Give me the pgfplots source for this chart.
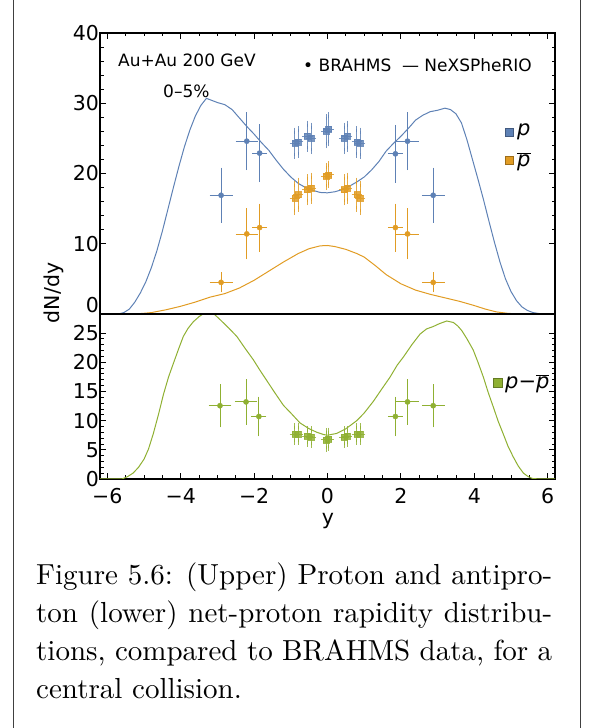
\documentclass[border=0pt]{standalone}
\usepackage{pgfplots}
\pgfplotsset{compat=1.18}
\usepackage{fontspec}
\newfontfamily\lsans{DejaVu Sans}
\newfontfamily\capfont[Extension=.otf]{lmroman10-regular}
\definecolor{cb}{RGB}{94,129,181}
\definecolor{co}{RGB}{225,156,36}
\definecolor{cg}{RGB}{143,176,50}
\pgfplotsset{
  mystyle/.style={scale only axis, width=455pt, xmin=-6.2, xmax=6.2,
    tick align=inside, major tick length=6pt, minor tick length=3.5pt,
    every tick/.style={black, line width=0.8pt},
    axis line style={black, line width=1.2pt},
    xtick={-6,-4,...,6}, minor x tick num=3,
    ticklabel style={font=\lsans\fontsize{20.5}{20.5}\selectfont},
    yticklabel style={xshift=2.5pt},
    yticklabel pos=left},
  errc/.style={only marks, mark=*, mark size=2.6pt,
    error bars/x dir=both, error bars/x explicit,
    error bars/y dir=both, error bars/y explicit,
    error bars/error bar style={line width=0.8pt},
    error bars/error mark options={line width=0.8pt, mark size=3pt}},
  errs/.style={only marks, mark=square*, mark size=3pt, opacity=0.85,
    error bars/x dir=both, error bars/x explicit,
    error bars/y dir=both, error bars/y explicit,
    error bars/error bar style={line width=0.8pt},
    error bars/error mark options={line width=0.8pt, mark size=3pt}},
}
\begin{document}
\begin{tikzpicture}[x=1pt,y=1pt]
\useasboundingbox (0,0) rectangle (592,728);
\draw[black!75, line width=1pt] (13,0) -- (13,728);
\draw[black!75, line width=1pt] (580,0) -- (580,728);
% upper panel
\begin{axis}[mystyle, at={(100pt,414pt)}, anchor=south west, height=281pt,
  ymin=0, ymax=40, ytick={10,20,30,40}, yticklabels={10,20,30,40},
  minor y tick num=4, xticklabels={}, xtick pos=upper,
  extra y ticks={0}, extra y tick labels={0},
  extra y tick style={yticklabel style={yshift=9pt}}]
\addplot[cb, line width=1pt] coordinates {(-6.2,0) (-5.7,0) (-5.55,0.2) (-5.4,0.7) (-5.25,1.7) (-5.1,3.0) (-4.95,4.6) (-4.8,6.6) (-4.65,9.0) (-4.5,11.8) (-4.35,14.9) (-4.2,18.0) (-4.05,21.0) (-3.9,23.8) (-3.75,26.2) (-3.6,28.2) (-3.45,29.7) (-3.3,30.7) (-3.15,30.4) (-3.0,30.1) (-2.8,29.8) (-2.6,29.1) (-2.4,27.9) (-2.2,26.7) (-2.0,25.6) (-1.8,24.4) (-1.6,23.3) (-1.4,21.9) (-1.2,20.6) (-1.0,19.5) (-0.8,18.6) (-0.6,18.0) (-0.4,17.6) (-0.2,17.3) (0,17.25) (0.2,17.4) (0.4,17.7) (0.6,18.2) (0.8,18.8) (1.0,19.5) (1.2,20.5) (1.4,21.7) (1.6,23.2) (1.8,24.3) (2.0,25.3) (2.2,26.4) (2.4,27.6) (2.6,28.3) (2.8,28.8) (3.0,29.0) (3.2,29.3) (3.35,29.1) (3.5,28.5) (3.65,27.2) (3.8,24.8) (3.95,22.0) (4.1,19.2) (4.25,16.3) (4.4,13.2) (4.55,10.2) (4.7,7.4) (4.85,5.0) (5.0,3.2) (5.15,1.9) (5.3,1.0) (5.45,0.5) (5.6,0.2) (5.8,0.03) (6.2,0)};
\addplot[co, line width=1pt] coordinates {(-6.2,0) (-5.3,0) (-5.0,0.1) (-4.8,0.2) (-4.4,0.6) (-4.0,1.1) (-3.6,1.7) (-3.2,2.4) (-2.8,2.9) (-2.4,3.7) (-2.0,4.8) (-1.6,6.1) (-1.2,7.4) (-0.8,8.6) (-0.5,9.3) (-0.2,9.7) (0,9.75) (0.2,9.6) (0.5,9.2) (0.8,8.6) (1.0,8.1) (1.3,6.9) (1.6,5.6) (2.0,4.3) (2.4,3.4) (2.8,2.8) (3.2,2.3) (3.6,1.8) (4.0,1.2) (4.3,0.7) (4.6,0.3) (4.9,0.1) (5.2,0) (6.2,0)};
\addplot[cb, errc] table[x=x, y=y, x error=ex, y error=ey] {
x y ex ey
-2.90 16.9 0.23 3.5
-2.20 24.6 0.22 3.7
-1.85 22.9 0.12 3.7
1.85 22.8 0.12 3.7
2.18 24.6 0.22 3.7
2.88 16.9 0.23 3.5
};
\addplot[cb, errs] table[x=x, y=y, x error=ex, y error=ey] {
x y ex ey
-0.89 24.3 0.06 1.8
-0.80 24.5 0.06 1.8
-0.55 25.3 0.06 1.8
-0.45 25.0 0.06 1.8
-0.03 26.0 0.06 2.0
0.03 26.3 0.06 2.0
0.45 25.0 0.06 1.8
0.53 25.3 0.06 1.8
0.80 24.5 0.06 1.8
0.89 24.3 0.06 1.8
};
\addplot[co, errc] table[x=x, y=y, x error=ex, y error=ey] {
x y ex ey
-2.90 4.5 0.23 1.0
-2.20 11.4 0.22 3.2
-1.85 12.3 0.12 3.0
1.85 12.3 0.12 3.0
2.18 11.4 0.22 3.2
2.88 4.5 0.23 1.0
};
\addplot[co, errs] table[x=x, y=y, x error=ex, y error=ey] {
x y ex ey
-0.89 16.5 0.06 2.0
-0.80 17.0 0.06 2.0
-0.55 17.7 0.06 1.8
-0.45 17.9 0.06 1.8
-0.03 19.6 0.06 1.5
0.03 19.8 0.06 1.5
0.45 17.7 0.06 1.8
0.53 17.9 0.06 1.8
0.80 17.0 0.06 2.0
0.89 16.5 0.06 2.0
};
\end{axis}
% lower panel
\begin{axis}[mystyle, at={(100pt,249pt)}, anchor=south west, height=165pt,
  ymin=0, ymax=28.25, ytick={0,5,10,15,20,25}, yticklabels={0,5,10,15,20,25},
  minor y tick num=4, xtick pos=lower,
  xticklabels={−6,−4,−2,0,2,4,6},
  xticklabel style={yshift=-6pt}]
\addplot[cg, line width=1pt] coordinates {(-6.2,0) (-5.6,0) (-5.45,0.4) (-5.3,1.0) (-5.15,2.0) (-5.0,3.4) (-4.88,5.1) (-4.75,7.7) (-4.6,11.2) (-4.47,14.5) (-4.33,17.5) (-4.2,19.8) (-4.05,22.4) (-3.93,24.4) (-3.8,25.8) (-3.66,26.9) (-3.5,27.8) (-3.38,28.3) (-3.25,28.6) (-3.1,28.3) (-2.93,27.3) (-2.7,25.9) (-2.47,24.4) (-2.25,22.4) (-2.02,20.4) (-1.85,18.7) (-1.66,16.9) (-1.45,14.9) (-1.2,12.6) (-1.0,11.3) (-0.75,9.6) (-0.5,8.6) (-0.29,8.0) (-0.1,7.6) (0.0,7.5) (0.25,7.8) (0.5,8.6) (0.8,10.0) (1.0,11.3) (1.25,13.3) (1.5,15.6) (1.7,17.4) (1.9,19.5) (2.07,20.9) (2.3,23.0) (2.52,24.8) (2.7,25.7) (2.88,26.1) (3.05,26.6) (3.25,27.05) (3.43,26.8) (3.55,26.2) (3.66,25.4) (3.8,24.0) (3.97,22.1) (4.1,20.0) (4.25,17.4) (4.38,14.8) (4.52,12.3) (4.65,9.9) (4.79,7.7) (4.92,5.6) (5.06,3.8) (5.2,2.2) (5.34,1.0) (5.47,0.4) (5.6,0.05) (6.2,0)};
\addplot[cg, errc] table[x=x, y=y, x error=ex, y error=ey] {
x y ex ey
-2.93 12.55 0.23 3.2
-2.22 13.2 0.22 3.4
-1.87 10.7 0.12 2.9
1.85 10.7 0.12 2.9
2.18 13.2 0.22 3.4
2.88 12.55 0.23 3.2
};
\addplot[cg, errs] table[x=x, y=y, x error=ex, y error=ey] {
x y ex ey
-0.89 7.7 0.06 1.3
-0.80 7.7 0.06 1.3
-0.55 7.3 0.06 1.3
-0.45 7.2 0.06 1.3
-0.03 6.7 0.06 1.5
0.03 6.8 0.06 1.5
0.45 7.2 0.06 1.3
0.53 7.3 0.06 1.3
0.80 7.7 0.06 1.3
0.89 7.7 0.06 1.3
};
\end{axis}
\draw[line width=2pt] (100,414) -- (555,414);
% texts
\node[anchor=west, inner sep=0pt, font=\lsans\fontsize{17}{17}\selectfont] at (118,668) {Au+Au 200 GeV};
\node[anchor=west, inner sep=0pt, font=\lsans\fontsize{17}{17}\selectfont] at (163,636.3) {0–5\%};
\node[anchor=west, inner sep=0pt, font=\lsans\fontsize{17}{17}\selectfont] at (303,663) {• BRAHMS\ \ — NeXSPheRIO};
\filldraw[fill=cb, draw=cb!70!black, line width=0.5pt] (505,592) rectangle (513,600);
\node[anchor=west, inner sep=0pt, font=\lsans\itshape\fontsize{21}{21}\selectfont] at (517,596) {p};
\filldraw[fill=co, draw=co!70!black, line width=0.5pt] (505,564) rectangle (513,572);
\node[anchor=west, inner sep=0pt, font=\lsans\itshape\fontsize{21}{21}\selectfont] at (517,566) {$\overline{\mbox{p}}$};
\filldraw[fill=cg, draw=cg!70!black, line width=0.5pt] (493,341) rectangle (502,350);
\node[anchor=west, inner sep=0pt, font=\lsans\itshape\fontsize{21}{21}\selectfont] at (505,344) {p\upshape−\itshape$\overline{\mbox{p}}$};
\node[rotate=90, inner sep=0pt, font=\lsans\fontsize{20.5}{20.5}\selectfont] at (54,435) {dN/dy};
\node[inner sep=0pt, font=\lsans\fontsize{20.5}{20.5}\selectfont] at (328,207) {y};
\node[anchor=north west, inner sep=0pt, text width=516pt, align=justify, font=\capfont\fontsize{29}{38}\selectfont] at (36,165.4) {Figure 5.6: (Upper) Proton and antipro-\linebreak ton (lower) net-proton rapidity distribu-\linebreak tions, compared to BRAHMS data, for a\linebreak central collision.};
\end{tikzpicture}
\end{document}
